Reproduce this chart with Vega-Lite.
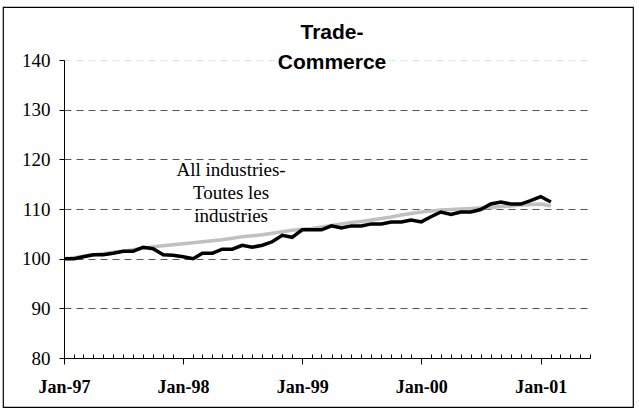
{
  "$schema": "https://vega.github.io/schema/vega-lite/v6.json",
  "autosize": {"type": "none"},
  "padding": {"left": 3, "top": 7, "right": 6, "bottom": 5},
  "width": 630,
  "height": 400,
  "background": "white",
  "config": {
    "view": {"stroke": "#000000", "strokeWidth": 1.2},
    "axis": {"domainColor": "#000000", "tickColor": "#000000", "labelColor": "#000000", "labelFont": "Liberation Serif"}
  },
  "title": {
    "text": ["Trade-", "Commerce"],
    "font": "Liberation Sans",
    "fontSize": 21,
    "fontWeight": "bold",
    "color": "#000000",
    "anchor": "middle",
    "frame": "group",
    "baseline": "top",
    "lineHeight": 30,
    "offset": -66,
    "dx": 14
  },
  "datasets": {
    "series": [
      {"date": "1997-01-01", "series": "All industries", "value": 100.0},
      {"date": "1997-02-01", "series": "All industries", "value": 100.2},
      {"date": "1997-03-01", "series": "All industries", "value": 100.5},
      {"date": "1997-04-01", "series": "All industries", "value": 100.8},
      {"date": "1997-05-01", "series": "All industries", "value": 101.0},
      {"date": "1997-06-01", "series": "All industries", "value": 101.3},
      {"date": "1997-07-01", "series": "All industries", "value": 101.5},
      {"date": "1997-08-01", "series": "All industries", "value": 101.8},
      {"date": "1997-09-01", "series": "All industries", "value": 102.1},
      {"date": "1997-10-01", "series": "All industries", "value": 102.4},
      {"date": "1997-11-01", "series": "All industries", "value": 102.6},
      {"date": "1997-12-01", "series": "All industries", "value": 102.8},
      {"date": "1998-01-01", "series": "All industries", "value": 103.0},
      {"date": "1998-02-01", "series": "All industries", "value": 103.2},
      {"date": "1998-03-01", "series": "All industries", "value": 103.4},
      {"date": "1998-04-01", "series": "All industries", "value": 103.6},
      {"date": "1998-05-01", "series": "All industries", "value": 103.8},
      {"date": "1998-06-01", "series": "All industries", "value": 104.1},
      {"date": "1998-07-01", "series": "All industries", "value": 104.4},
      {"date": "1998-08-01", "series": "All industries", "value": 104.6},
      {"date": "1998-09-01", "series": "All industries", "value": 104.8},
      {"date": "1998-10-01", "series": "All industries", "value": 105.1},
      {"date": "1998-11-01", "series": "All industries", "value": 105.4},
      {"date": "1998-12-01", "series": "All industries", "value": 105.7},
      {"date": "1999-01-01", "series": "All industries", "value": 105.9},
      {"date": "1999-02-01", "series": "All industries", "value": 106.1},
      {"date": "1999-03-01", "series": "All industries", "value": 106.4},
      {"date": "1999-04-01", "series": "All industries", "value": 106.7},
      {"date": "1999-05-01", "series": "All industries", "value": 107.0},
      {"date": "1999-06-01", "series": "All industries", "value": 107.3},
      {"date": "1999-07-01", "series": "All industries", "value": 107.5},
      {"date": "1999-08-01", "series": "All industries", "value": 107.8},
      {"date": "1999-09-01", "series": "All industries", "value": 108.1},
      {"date": "1999-10-01", "series": "All industries", "value": 108.4},
      {"date": "1999-11-01", "series": "All industries", "value": 108.8},
      {"date": "1999-12-01", "series": "All industries", "value": 109.1},
      {"date": "2000-01-01", "series": "All industries", "value": 109.4},
      {"date": "2000-02-01", "series": "All industries", "value": 109.6},
      {"date": "2000-03-01", "series": "All industries", "value": 109.8},
      {"date": "2000-04-01", "series": "All industries", "value": 109.9},
      {"date": "2000-05-01", "series": "All industries", "value": 110.0},
      {"date": "2000-06-01", "series": "All industries", "value": 110.1},
      {"date": "2000-07-01", "series": "All industries", "value": 110.2},
      {"date": "2000-08-01", "series": "All industries", "value": 110.3},
      {"date": "2000-09-01", "series": "All industries", "value": 110.5},
      {"date": "2000-10-01", "series": "All industries", "value": 110.6},
      {"date": "2000-11-01", "series": "All industries", "value": 110.8},
      {"date": "2000-12-01", "series": "All industries", "value": 110.9},
      {"date": "2001-01-01", "series": "All industries", "value": 111.0},
      {"date": "2001-02-01", "series": "All industries", "value": 110.6},
      {"date": "1997-01-01", "series": "Trade", "value": 100.0},
      {"date": "1997-02-01", "series": "Trade", "value": 100.0},
      {"date": "1997-03-01", "series": "Trade", "value": 100.4},
      {"date": "1997-04-01", "series": "Trade", "value": 100.8},
      {"date": "1997-05-01", "series": "Trade", "value": 100.8},
      {"date": "1997-06-01", "series": "Trade", "value": 101.1},
      {"date": "1997-07-01", "series": "Trade", "value": 101.5},
      {"date": "1997-08-01", "series": "Trade", "value": 101.5},
      {"date": "1997-09-01", "series": "Trade", "value": 102.3},
      {"date": "1997-10-01", "series": "Trade", "value": 102.0},
      {"date": "1997-11-01", "series": "Trade", "value": 100.8},
      {"date": "1997-12-01", "series": "Trade", "value": 100.7},
      {"date": "1998-01-01", "series": "Trade", "value": 100.4},
      {"date": "1998-02-01", "series": "Trade", "value": 100.0},
      {"date": "1998-03-01", "series": "Trade", "value": 101.1},
      {"date": "1998-04-01", "series": "Trade", "value": 101.1},
      {"date": "1998-05-01", "series": "Trade", "value": 101.9},
      {"date": "1998-06-01", "series": "Trade", "value": 101.9},
      {"date": "1998-07-01", "series": "Trade", "value": 102.7},
      {"date": "1998-08-01", "series": "Trade", "value": 102.3},
      {"date": "1998-09-01", "series": "Trade", "value": 102.7},
      {"date": "1998-10-01", "series": "Trade", "value": 103.4},
      {"date": "1998-11-01", "series": "Trade", "value": 104.7},
      {"date": "1998-12-01", "series": "Trade", "value": 104.3},
      {"date": "1999-01-01", "series": "Trade", "value": 105.8},
      {"date": "1999-02-01", "series": "Trade", "value": 105.8},
      {"date": "1999-03-01", "series": "Trade", "value": 105.8},
      {"date": "1999-04-01", "series": "Trade", "value": 106.6},
      {"date": "1999-05-01", "series": "Trade", "value": 106.2},
      {"date": "1999-06-01", "series": "Trade", "value": 106.6},
      {"date": "1999-07-01", "series": "Trade", "value": 106.6},
      {"date": "1999-08-01", "series": "Trade", "value": 107.0},
      {"date": "1999-09-01", "series": "Trade", "value": 107.0},
      {"date": "1999-10-01", "series": "Trade", "value": 107.4},
      {"date": "1999-11-01", "series": "Trade", "value": 107.4},
      {"date": "1999-12-01", "series": "Trade", "value": 107.8},
      {"date": "2000-01-01", "series": "Trade", "value": 107.4},
      {"date": "2000-02-01", "series": "Trade", "value": 108.5},
      {"date": "2000-03-01", "series": "Trade", "value": 109.4},
      {"date": "2000-04-01", "series": "Trade", "value": 108.9},
      {"date": "2000-05-01", "series": "Trade", "value": 109.4},
      {"date": "2000-06-01", "series": "Trade", "value": 109.4},
      {"date": "2000-07-01", "series": "Trade", "value": 109.9},
      {"date": "2000-08-01", "series": "Trade", "value": 111.0},
      {"date": "2000-09-01", "series": "Trade", "value": 111.4},
      {"date": "2000-10-01", "series": "Trade", "value": 111.0},
      {"date": "2000-11-01", "series": "Trade", "value": 111.0},
      {"date": "2000-12-01", "series": "Trade", "value": 111.7},
      {"date": "2001-01-01", "series": "Trade", "value": 112.5},
      {"date": "2001-02-01", "series": "Trade", "value": 111.4}
    ],
    "notes": [
      {"date": "1998-05-28", "value": 117.8, "label": "All industries-\nToutes les\nindustries"}
    ]
  },
  "data": {"name": "series"},
  "encoding": {
    "x": {
      "field": "date",
      "type": "temporal",
      "scale": {
        "type": "utc",
        "domain": [{"year": 1997, "month": 1, "date": 1, "utc": true}, {"year": 2001, "month": 6, "date": 1, "utc": true}],
        "range": [61, 587]
      },
      "axis": {
        "title": null,
        "orient": "bottom",
        "offset": -49,
        "grid": false,
        "tickCount": {"interval": "month", "step": 1},
        "labelExpr": "utcmonth(datum.value) == 0 ? utcFormat(datum.value, '%b-%y') : ''",
        "labelFont": "Liberation Serif",
        "labelFontSize": 18,
        "labelFontWeight": "bold",
        "labelPadding": 14,
        "labelFlush": false,
        "labelOverlap": false,
        "tickSize": {"condition": {"test": "utcmonth(datum.value) == 0", "value": 6}, "value": -4},
        "tickWidth": 1,
        "domainWidth": 1
      }
    },
    "y": {
      "field": "value",
      "type": "quantitative",
      "scale": {"domain": [80, 140], "range": [351, 53], "zero": false, "nice": false},
      "axis": {
        "title": null,
        "orient": "left",
        "offset": -61,
        "values": [80, 90, 100, 110, 120, 130, 140],
        "labelFont": "Liberation Serif",
        "labelFontSize": 19,
        "labelPadding": 9,
        "tickSize": 5,
        "grid": true,
        "gridDash": [7, 5],
        "gridWidth": 1,
        "gridColor": {"condition": {"test": "datum.value === 140", "value": "#e6e6e6"}, "value": "#555555"},
        "domainWidth": 1
      }
    }
  },
  "layer": [
    {
      "transform": [{"filter": "datum.series === 'All industries'"}],
      "mark": {"type": "line", "color": "#c0c0c0", "strokeWidth": 3.5, "strokeJoin": "miter"}
    },
    {
      "transform": [{"filter": "datum.series === 'Trade'"}],
      "mark": {"type": "line", "color": "#000000", "strokeWidth": 3.5, "strokeJoin": "miter"}
    },
    {
      "data": {"name": "notes"},
      "mark": {"type": "text", "font": "Liberation Serif", "fontSize": 19, "align": "center", "baseline": "middle", "lineHeight": 23, "lineBreak": "\n", "color": "#000000"},
      "encoding": {
        "text": {"field": "label", "type": "nominal"}
      }
    }
  ]
}
